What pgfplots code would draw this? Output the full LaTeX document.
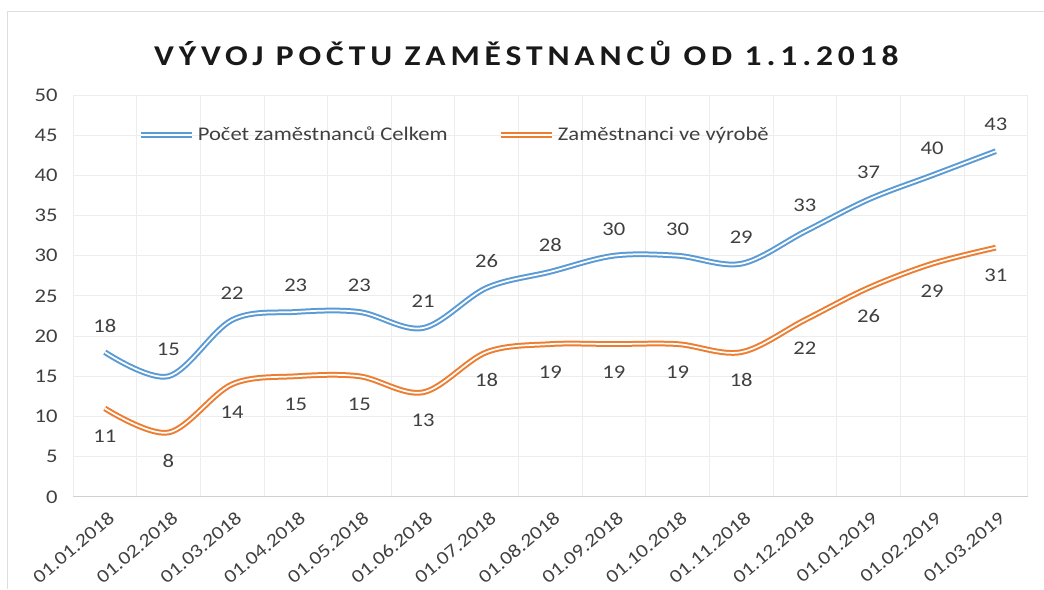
\documentclass[border=0pt]{standalone}
\usepackage{fontspec}
\setmainfont[FakeStretch=1.17]{Carlito}
\newfontfamily\titlefont[FakeStretch=1.17,LetterSpace=17]{Carlito}
\usepackage{pgfplots}
\pgfplotsset{compat=1.18}
\definecolor{cblue}{HTML}{5B9BD5}
\definecolor{corange}{HTML}{ED7D31}
\definecolor{gridc}{HTML}{EDEDED}
\definecolor{axisc}{HTML}{D0D0D0}
\definecolor{txt}{HTML}{404040}
\begin{document}
\begin{tikzpicture}
\begin{axis}[
  scale only axis,
  width=716.25pt, height=301.5pt,
  xmin=-0.5, xmax=14.5,
  ymin=0, ymax=50,
  ytick={0,5,...,50},
  xtick={0,...,14},
  xticklabels={01.01.2018,01.02.2018,01.03.2018,01.04.2018,01.05.2018,01.06.2018,01.07.2018,01.08.2018,01.09.2018,01.10.2018,01.11.2018,01.12.2018,01.01.2019,01.02.2019,01.03.2019},
  minor xtick={-0.5,0.5,...,14.5},
  ymajorgrids, xminorgrids,
  major grid style={gridc, line width=0.6pt},
  minor grid style={gridc, line width=0.6pt},
  major tick length=0pt, minor tick length=0pt,
  axis line style={draw=none},
  every tick label/.append style={font=\fontsize{14.5}{17}\selectfont, text=txt},
  /pgf/number format/assume math mode=true,
  yticklabel style={xshift=-8pt},
  xticklabel style={rotate=40, anchor=north east, xshift=-5pt, yshift=-9pt, inner sep=0pt, font=\fontsize{14}{16}\selectfont},
  legend style={at={(axis description cs:0.4,0.9)}, anchor=center, draw=none, fill=none,
    legend columns=2, font=\fontsize{14.5}{17}\selectfont, text=txt,
    /tikz/every even column/.append style={column sep=36pt}},
  legend image code/.code={\draw[#1] (0cm,0cm) -- (1.35cm,0cm);},
  nodes near coords,
  every node near coord/.append style={font=\fontsize{14.5}{17}\selectfont, text=txt, anchor=center},
  clip=false,
]
\draw[axisc, line width=0.8pt] (axis description cs:0,0) -- (axis description cs:1,0);
\addplot[cblue, line width=1.5pt, double=white, double distance=1.3pt, smooth, tension=0.55,
  every node near coord/.append style={yshift=20pt}]
  coordinates {(0,18) (1,15) (2,22) (3,23) (4,23) (5,21) (6,26) (7,28) (8,30) (9,30) (10,29) (11,33) (12,37) (13,40) (14,43)};
\addlegendentry{Počet zaměstnanců Celkem}
\addplot[corange, line width=1.5pt, double=white, double distance=1.3pt, smooth, tension=0.55,
  every node near coord/.append style={yshift=-21pt}]
  coordinates {(0,11) (1,8) (2,14) (3,15) (4,15) (5,13) (6,18) (7,19) (8,19) (9,19) (10,18) (11,22) (12,26) (13,29) (14,31)};
\addlegendentry{Zaměstnanci ve výrobě}
\node[font=\titlefont\bfseries\fontsize{21.5}{24}\selectfont, text=black!90] at (axis description cs:0.475,1.1045) {VÝVOJ POČTU ZAMĚSTNANCŮ OD 1.1.2018};
\coordinate (bl) at (axis description cs:-0.07644,-0.22886);
\coordinate (tr) at (axis description cs:1.01675,1.23632);
\coordinate (bb) at (axis description cs:-0.06911,1.20896);
\end{axis}
\pgfresetboundingbox
\path (bl) rectangle (tr);
\draw[axisc!70, line width=0.6pt] (bb |- bl) -- (bb) -- (bb -| tr);
\end{tikzpicture}
\end{document}
